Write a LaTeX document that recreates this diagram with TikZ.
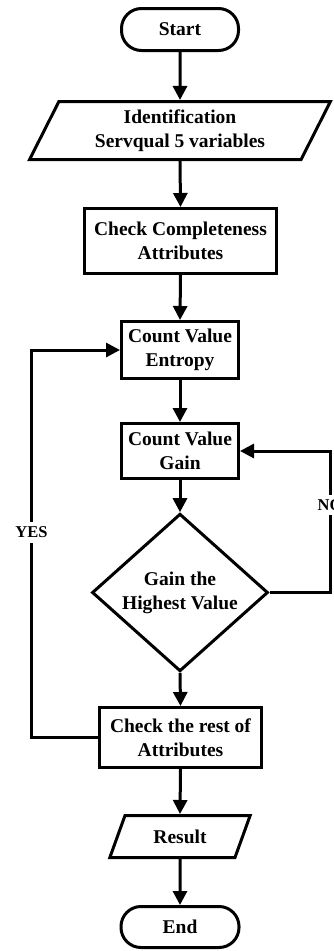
\documentclass[tikz,border=0pt]{standalone}
\usepackage{fontspec}
\setmainfont{Liberation Serif}
\usetikzlibrary{shapes.geometric,arrows.meta}
\tikzset{
  base/.style={draw=black, line width=3pt, fill=white, align=center, inner sep=0pt,
    font=\fontsize{19.5}{24}\selectfont\bfseries},
  term/.style={base, rectangle, rounded corners=20pt},
  proc/.style={base, rectangle},
  io/.style={base, trapezium, trapezium stretches=true},
  decision/.style={base, diamond},
  flow/.style={line width=3pt, -{Triangle[length=14pt,width=14pt]}},
  lbl/.style={fill=white, inner xsep=1pt, inner ysep=4.5pt, font=\fontsize{16.5}{18}\selectfont\bfseries}
}
\begin{document}
\begin{tikzpicture}[x=1pt,y=1pt]
\useasboundingbox (0,0) rectangle (334,-951);
\node[term, minimum width=117pt, minimum height=42pt] (start) at (180,-29.5) {Start};
\node[io, trapezium left angle=63.8, trapezium right angle=116.2, minimum width=301pt, minimum height=58pt] (ident) at (180,-130.5) {Identification\\Servqual 5 variables};
\node[proc, minimum width=192pt, minimum height=65pt] (comp) at (180.5,-241) {Check Completeness\\Attributes};
\node[proc, minimum width=117pt, minimum height=57pt] (entropy) at (180,-350) {Count Value\\Entropy};
\node[proc, minimum width=117pt, minimum height=55pt] (gain) at (180,-451) {Count Value\\Gain};
\node[decision, minimum width=176pt, minimum height=130pt] (dec) at (180,-592.5) {Gain the\\Highest Value};
\node[proc, minimum width=162pt, minimum height=60pt] (rest) at (180.5,-737.5) {Check the rest of\\Attributes};
\node[io, trapezium left angle=62, trapezium right angle=118, minimum width=141pt, minimum height=42pt] (result) at (180,-836.5) {Result};
\node[term, minimum width=118pt, minimum height=41pt] (end) at (180,-927) {End};

\draw[flow] (start.south) -- (ident.north);
\draw[flow] (ident.south) -- (comp.north);
\draw[flow] (comp.south) -- (entropy.north);
\draw[flow] (entropy.south) -- (gain.north);
\draw[flow] (gain.south) -- (dec.north);
\draw[flow] (dec.south) -- (rest.north);
\draw[flow] (rest.south) -- (result.north);
\draw[flow] (result.south) -- (end.north);

\coordinate (nocorner) at (330,-592.5);
\coordinate (yescorner) at (31.5,-737.5);
\draw[flow] (dec.east) -- (nocorner) |- (gain.east);
\draw[flow] (rest.west) -- (yescorner) |- (entropy.west);
\node[lbl] (no) at (330,-505) {NO};
\node[lbl] (yes) at (31.5,-532.5) {YES};
\end{tikzpicture}
\end{document}
